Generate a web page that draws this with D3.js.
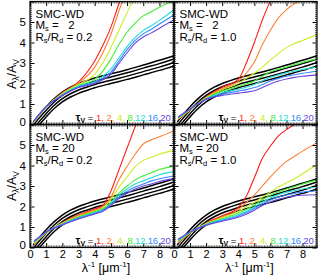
<!DOCTYPE html>
<html><head><meta charset="utf-8">
<script src="https://cdn.jsdelivr.net/npm/d3@7"></script>
<style>
body{margin:0;background:#fff}
svg{display:block}
text{font-family:"Liberation Sans",Arial,Helvetica,sans-serif;white-space:pre}
</style>
</head><body>
<svg id="c" width="321" height="279"></svg>
<script>
// wavelength grids (1/micron)
const lambdaGrid = [0.25, 1, 2, 3, 4, 4.5, 5, 5.5, 6, 6.5, 7, 7.5, 8, 8.9];
const blackGrid  = [0.2, 0.5, 1, 1.5, 2, 2.5, 3, 3.5, 4, 5, 6, 7, 8, 8.9];
const xTickLabels = [0, 1, 2, 3, 4, 5, 6, 7, 8];
const yTickLabels = [0, 1, 2, 3, 4, 5];
const tauLabels = ["1", "2", "4", "8", "12", "16", "20"];
const tauColors = ["#ff1a1a", "#ff8033", "#cbee22", "#44ee33", "#22ddd0", "#3388ff", "#6a44dd"];

// black reference curves
const black1 = [0.12, 0.42, 0.87, 1.26, 1.58, 1.82, 2.00, 2.14, 2.27, 2.47, 2.67, 2.90, 3.13, 3.36];
const black2 = [-0.05, 0.25, 0.70, 1.10, 1.42, 1.66, 1.84, 1.98, 2.11, 2.32, 2.52, 2.75, 2.97, 3.20];
const black3 = [-0.20, 0.08, 0.53, 0.94, 1.26, 1.50, 1.68, 1.82, 1.95, 2.16, 2.36, 2.58, 2.80, 3.03];
const black4 = [-0.35, -0.08, 0.37, 0.78, 1.10, 1.34, 1.52, 1.66, 1.79, 2.00, 2.20, 2.42, 2.64, 2.86];

// Ms = 2, Rs/Rd = 0.2  (tau 1,2,4,8,12,16,20)
const ms2_r02 = [
  [0.12, 0.85, 1.55, 2.08, 3.10, 3.85, 4.75, 5.90, 7.00, 8.0, 8.8, 9.5, 10.0, 10.5],
  [0.13, 0.85, 1.53, 2.02, 2.80, 3.50, 4.40, 5.55, 6.60, 7.4, 8.0, 8.5, 9.0, 9.5],
  [0.14, 0.85, 1.50, 1.96, 2.45, 3.00, 3.75, 4.60, 5.45, 6.30, 7.0, 7.5, 8.0, 8.5],
  [0.16, 0.86, 1.47, 1.90, 2.20, 2.60, 3.20, 3.90, 4.50, 4.95, 5.30, 5.50, 5.72, 6.05],
  [0.17, 0.86, 1.45, 1.86, 2.10, 2.35, 2.70, 3.25, 3.80, 4.25, 4.58, 4.82, 5.08, 5.60],
  [0.18, 0.87, 1.43, 1.83, 2.05, 2.25, 2.55, 3.10, 3.65, 4.10, 4.42, 4.65, 4.90, 5.35],
  [0.19, 0.87, 1.41, 1.80, 2.00, 2.18, 2.45, 2.98, 3.50, 3.97, 4.27, 4.47, 4.70, 5.10]
];
// Ms = 2, Rs/Rd = 1.0
const ms2_r10 = [
  [0.25, 0.70, 1.35, 1.82, 2.20, 3.00, 4.00, 5.10, 6.05, 7.0, 8.0, 8.5, 9.0, 9.5],
  [0.27, 0.71, 1.32, 1.75, 2.10, 2.50, 3.05, 3.90, 4.60, 5.20, 5.60, 5.90, 6.15, 6.60],
  [0.29, 0.72, 1.30, 1.70, 2.00, 2.25, 2.50, 2.80, 3.15, 3.46, 3.75, 3.95, 4.10, 4.40],
  [0.31, 0.73, 1.28, 1.62, 1.85, 1.98, 2.12, 2.35, 2.57, 2.70, 2.80, 2.92, 3.03, 3.20],
  [0.33, 0.74, 1.26, 1.55, 1.72, 1.82, 1.95, 2.12, 2.30, 2.42, 2.52, 2.60, 2.68, 2.80],
  [0.35, 0.75, 1.24, 1.48, 1.63, 1.70, 1.80, 1.95, 2.12, 2.25, 2.35, 2.43, 2.50, 2.60],
  [0.37, 0.76, 1.22, 1.42, 1.53, 1.58, 1.65, 1.80, 1.98, 2.12, 2.22, 2.30, 2.35, 2.42]
];
// Ms = 20, Rs/Rd = 0.2
const ms20_r02 = [
  [0.15, 0.70, 1.22, 1.60, 1.88, 2.05, 2.75, 3.80, 4.85, 5.90, 6.90, 7.5, 8.0, 8.5],
  [0.17, 0.71, 1.20, 1.56, 1.82, 1.98, 2.45, 3.30, 3.95, 4.55, 5.05, 5.25, 5.40, 5.70],
  [0.20, 0.72, 1.18, 1.52, 1.78, 1.93, 2.35, 2.95, 3.45, 3.95, 4.25, 4.40, 4.55, 4.75],
  [0.23, 0.73, 1.16, 1.48, 1.74, 1.88, 2.20, 2.65, 3.00, 3.30, 3.50, 3.65, 3.80, 3.97],
  [0.26, 0.74, 1.14, 1.45, 1.70, 1.84, 2.15, 2.55, 2.85, 3.10, 3.25, 3.40, 3.55, 3.70],
  [0.29, 0.75, 1.12, 1.42, 1.67, 1.80, 2.10, 2.45, 2.75, 2.95, 3.10, 3.25, 3.35, 3.50],
  [0.32, 0.76, 1.10, 1.39, 1.64, 1.77, 2.05, 2.40, 2.65, 2.85, 3.00, 3.10, 3.22, 3.36]
];
// Ms = 20, Rs/Rd = 1.0
const ms20_r10 = [
  [0.22, 0.70, 1.20, 1.55, 1.95, 2.50, 3.40, 4.35, 4.95, 5.45, 5.75, 6.00, 6.20, 6.50],
  [0.25, 0.71, 1.18, 1.50, 1.85, 2.20, 2.55, 3.00, 3.45, 3.85, 4.20, 4.45, 4.70, 5.10],
  [0.28, 0.72, 1.16, 1.45, 1.75, 2.00, 2.20, 2.45, 2.70, 2.95, 3.15, 3.35, 3.60, 4.05],
  [0.31, 0.73, 1.14, 1.40, 1.67, 1.85, 2.07, 2.33, 2.55, 2.72, 2.85, 2.97, 3.10, 3.30],
  [0.34, 0.74, 1.12, 1.36, 1.60, 1.76, 1.98, 2.22, 2.42, 2.58, 2.70, 2.78, 2.85, 2.95],
  [0.37, 0.75, 1.10, 1.32, 1.54, 1.69, 1.90, 2.13, 2.32, 2.46, 2.56, 2.64, 2.70, 2.77],
  [0.40, 0.76, 1.08, 1.28, 1.48, 1.62, 1.82, 2.05, 2.22, 2.35, 2.45, 2.52, 2.55, 2.57]
];
const msLabels = ["\u00a0 2", "\u00a0 2", "20", "20"];
const rLabels = ["0.2", "1.0", "0.2", "1.0"];

const svg = d3.select("#c");
const panels = [
  {data: ms2_r02,  ms: msLabels[0], r: rLabels[0], x0: 30,  x1: 174, y0: 1.5,   y1: 124.5, left: true,  bottom: false, yl: 74},
  {data: ms2_r10,  ms: msLabels[1], r: rLabels[1], x0: 174, x1: 317, y0: 1.5,   y1: 124.5, left: false, bottom: false},
  {data: ms20_r02, ms: msLabels[2], r: rLabels[2], x0: 30,  x1: 174, y0: 124.5, y1: 247.5, left: true,  bottom: true, yl: 186},
  {data: ms20_r10, ms: msLabels[3], r: rLabels[3], x0: 174, x1: 317, y0: 124.5, y1: 247.5, left: false, bottom: true}
];
const blacks = [black1, black2, black3, black4];
const minorX = d3.range(0, 90).map(i => i / 10).filter(v => Math.abs(v - Math.round(v)) > 1e-6);
const minorY = d3.range(0, 61).map(i => i / 10).filter(v => Math.abs(v - Math.round(v)) > 1e-6);
const majorX = d3.range(0, 9);
const majorY = d3.range(0, 7);

panels.forEach((p, pi) => {
  const x = d3.scaleLinear().domain([0, 8.9]).range([p.x0, p.x1]);
  const y = d3.scaleLinear().domain([0, 6]).range([p.y1, p.y0]);
  const cid = "clip" + pi;
  svg.append("clipPath").attr("id", cid).append("rect")
    .attr("x", p.x0).attr("y", p.y0).attr("width", p.x1 - p.x0).attr("height", p.y1 - p.y0);
  const g = svg.append("g").attr("clip-path", `url(#${cid})`);
  const lineB = d3.line().x((d, i) => x(blackGrid[i])).y(d => y(d)).curve(d3.curveMonotoneX);
  const lineC = d3.line().x((d, i) => x(lambdaGrid[i])).y(d => y(d)).curve(d3.curveMonotoneX);
  blacks.forEach(b => g.append("path").attr("d", lineB(b)).attr("fill", "none")
    .attr("stroke", "#000").attr("stroke-width", 1.5));
  p.data.forEach((s, si) => g.append("path").attr("d", lineC(s)).attr("fill", "none")
    .attr("stroke", tauColors[si]).attr("stroke-width", 1.1));

  // ticks (inward, all four sides)
  const axes = [
    [d3.axisBottom(x), `translate(0,${p.y1})`, minorX, majorX],
    [d3.axisTop(x), `translate(0,${p.y0})`, minorX, majorX],
    [d3.axisLeft(y), `translate(${p.x0},0)`, minorY, majorY],
    [d3.axisRight(y), `translate(${p.x1},0)`, minorY, majorY]
  ];
  axes.forEach(([ax, tr, mn, mj]) => {
    const a1 = svg.append("g").attr("transform", tr)
      .call(ax.tickValues(mn).tickSize(-2).tickFormat(""));
    a1.select(".domain").remove();
    a1.selectAll("line").attr("stroke-width", 0.7);
    const a2 = svg.append("g").attr("transform", tr)
      .call(ax.tickValues(mj).tickSize(-4.5).tickFormat(""));
    a2.select(".domain").remove();
    a2.selectAll("line").attr("stroke-width", 1);
  });
  svg.append("rect").attr("x", p.x0).attr("y", p.y0).attr("width", p.x1 - p.x0)
    .attr("height", p.y1 - p.y0).attr("fill", "none").attr("stroke", "#000").attr("stroke-width", 1.2);

  // tick labels
  if (p.bottom) {
    svg.append("g").selectAll("text").data(xTickLabels).join("text")
      .attr("x", d => x(d) + 0.5).attr("y", p.y1 + 10.3).attr("text-anchor", "middle")
      .attr("font-size", 11).text(d => d);
    const xl = svg.append("text").attr("x", (p.x0 + p.x1) / 2 + 4).attr("y", p.y1 + 24)
      .attr("text-anchor", "middle").attr("font-size", 12.5);
    xl.append("tspan").text("\u03bb");
    xl.append("tspan").attr("font-size", 8).attr("dy", -5).text("-1");
    xl.append("tspan").attr("dy", 5).text(" [\u03bcm");
    xl.append("tspan").attr("font-size", 8).attr("dy", -5).text("-1");
    xl.append("tspan").attr("dy", 5).text("]");
  }
  if (p.left) {
    svg.append("g").selectAll("text").data(yTickLabels).join("text")
      .attr("x", 26).attr("y", d => y(d) + (d === 0 ? 1 : 4)).attr("text-anchor", "end")
      .attr("font-size", 11.5).text(d => d);
    const yl = svg.append("text").attr("transform", `translate(16,${p.yl}) rotate(-90)`)
      .attr("text-anchor", "middle").attr("font-size", 12.5);
    yl.append("tspan").text("A");
    yl.append("tspan").attr("font-size", 8.5).attr("dy", 2.5).text("\u03bb");
    yl.append("tspan").attr("dy", -2.5).text("/A");
    yl.append("tspan").attr("font-size", 8.5).attr("dy", 2.5).text("V");
  }

  // annotations
  const tx = p.x0 + 5.5;
  svg.append("text").attr("x", tx).attr("y", p.y0 + 16).attr("font-size", 11.5).text("SMC-WD");
  const m = svg.append("text").attr("x", tx).attr("y", p.y0 + 27.5).attr("font-size", 11.5);
  m.append("tspan").text("M");
  m.append("tspan").attr("font-size", 7.5).attr("dy", 2).text("s");
  m.append("tspan").attr("dy", -2).text(" = " + p.ms);
  const r = svg.append("text").attr("x", tx).attr("y", p.y0 + 39).attr("font-size", 11.5);
  r.append("tspan").text("R");
  r.append("tspan").attr("font-size", 7.5).attr("dy", 2).text("s");
  r.append("tspan").attr("dy", -2).text("/R");
  r.append("tspan").attr("font-size", 7.5).attr("dy", 2).text("d");
  r.append("tspan").attr("dy", -2).text(" = " + p.r);

  // legend
  const lg = svg.append("text").attr("x", p.x1 - 3.5).attr("y", p.y1 - 3.5)
    .attr("text-anchor", "end").attr("font-size", 9.5);
  lg.append("tspan").attr("font-weight", "bold").attr("font-size", 11).text("\u03c4");
  lg.append("tspan").attr("font-weight", "bold").attr("font-size", 7).attr("dy", 1.5).text("V");
  lg.append("tspan").attr("dy", -1.5).text(" = ");
  tauLabels.forEach((t, i) => {
    const sep = i === tauLabels.length - 1 ? "" : (i < 3 ? ", " : ",");
    lg.append("tspan").attr("fill", tauColors[i]).attr("letter-spacing", i < 3 ? 0 : -0.2).text(t + sep);
  });
});
</script>
</body></html>
